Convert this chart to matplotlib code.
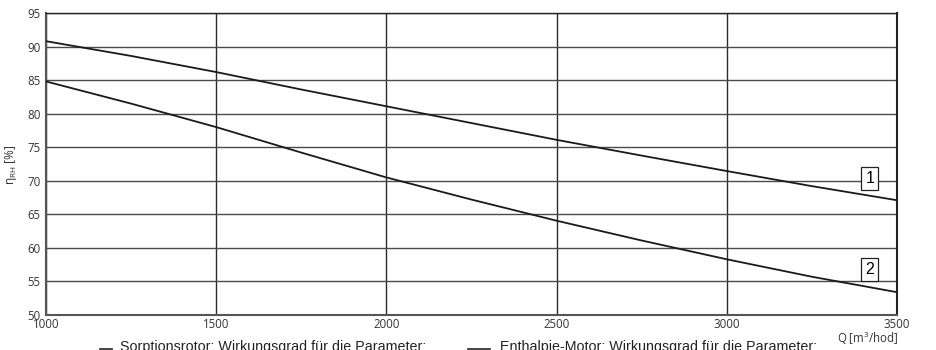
import matplotlib
matplotlib.use("Agg")
import matplotlib.pyplot as plt
from matplotlib.lines import Line2D

# Air flow Q [m3/hod]
flow = [1000, 1250, 1500, 1750, 2000, 2250, 2500, 2750, 3000, 3250, 3500]
# Humidity efficiency eta_RH [%]
eff_sorption = [90.8, 88.6, 86.2, 83.6, 81.1, 78.6, 76.1, 73.75, 71.45, 69.2, 67.1]
eff_enthalpy = [84.8, 81.5, 78.0, 74.2, 70.5, 67.2, 64.05, 61.1, 58.3, 55.7, 53.4]
curve_labels = ["1", "2"]
label_pos = [(3420, 70.4), (3420, 56.8)]
legend_texts = ["Sorptionsrotor: Wirkungsgrad für die Parameter:",
                "Enthalpie-Motor: Wirkungsgrad für die Parameter:"]
x_ticks = [1000, 1500, 2000, 2500, 3000, 3500]
y_ticks = [50, 55, 60, 65, 70, 75, 80, 85, 90, 95]

fig = plt.figure(figsize=(9.36, 3.5), dpi=100)
ax = fig.add_axes([46 / 936, 1 - 315 / 350, 851 / 936, 302 / 350])

ax.plot(flow, eff_sorption, color="#1a1a1a", lw=1.3, zorder=3)
ax.plot(flow, eff_enthalpy, color="#1a1a1a", lw=1.3, zorder=3)

ax.set_xlim(1000, 3500)
ax.set_ylim(50, 95)
ax.set_xticks(x_ticks)
ax.set_yticks(y_ticks)
ax.yaxis.grid(True, color="#4a4a4a", lw=1.0, zorder=1)
ax.xaxis.grid(True, color="#2a2a2a", lw=1.0, zorder=1)
ax.tick_params(axis="y", length=0, labelsize=8.3, labelcolor="#333333", pad=4)
ax.tick_params(axis="x", length=0, labelsize=8.3, labelcolor="#333333", pad=2)
for lbl in ax.get_xticklabels() + ax.get_yticklabels():
    lbl.set_fontfamily("Open Sans")
for side in ["left", "bottom"]:
    ax.spines[side].set_color("#555555")
    ax.spines[side].set_linewidth(1.5)
ax.spines["right"].set_color("#222222")
ax.spines["right"].set_linewidth(1.5)
ax.spines["top"].set_color("#222222")
ax.spines["top"].set_linewidth(1.0)

for txt, (xp, yp) in zip(curve_labels, label_pos):
    ax.text(xp, yp, txt, fontsize=11.5, family="Liberation Sans", ha="center", va="center",
            zorder=5,
            bbox=dict(boxstyle="square,pad=0.25", fc="white", ec="#222222", lw=0.9))

fig.text(11 / 936, 1 - 165 / 350, r"$\mathregular{\eta_{RH}}$ [%]", rotation=90,
         fontsize=8.5, family="Open Sans", color="#333333", ha="center", va="center")
fig.text(898 / 936, 1 - 338 / 350, r"Q [m$\mathregular{^3}$/hod]", fontsize=8.3,
         family="Open Sans", color="#333333", ha="right", va="center")

# Legend entries along the bottom edge
for (x0, x1, xt), txt in zip([(100, 112, 120), (468, 490, 500)], legend_texts):
    fig.add_artist(Line2D([x0 / 936, x1 / 936], [1 - 349 / 350] * 2,
                          color="#222222", lw=1.2))
    fig.text(xt / 936, 1 - 340 / 350, txt, fontsize=10.3, family="Liberation Sans",
             color="#222222", ha="left", va="top")

fig.savefig("out.png", dpi=100)
